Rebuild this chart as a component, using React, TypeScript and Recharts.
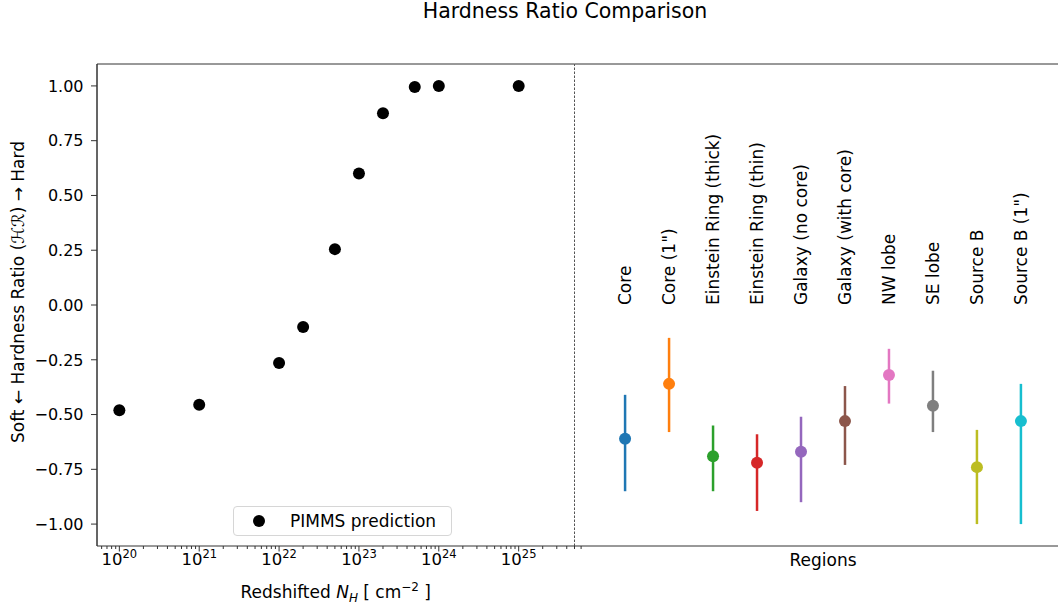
import React from 'react';
import { ScatterChart, Scatter, XAxis, YAxis, ErrorBar, Legend, Label, ReferenceLine } from 'recharts';

// PIMMS predicted hardness ratio against redshifted absorbing column
const nhColumns = [1e20, 1e21, 1e22, 2e22, 5e22, 1e23, 2e23, 5e23, 1e24, 1e25];
const pimmsHR = [-0.48, -0.455, -0.265, -0.1, 0.255, 0.6, 0.875, 0.995, 1.0, 1.0];

// measured hardness ratios per extraction region (value, lower and upper bound)
const regionNames = [
  'Core',
  'Core (1")',
  'Einstein Ring (thick)',
  'Einstein Ring (thin)',
  'Galaxy (no core)',
  'Galaxy (with core)',
  'NW lobe',
  'SE lobe',
  'Source B',
  'Source B (1")',
];
const regionHR = [-0.61, -0.36, -0.69, -0.72, -0.67, -0.53, -0.32, -0.46, -0.74, -0.53];
const regionLow = [-0.85, -0.58, -0.85, -0.94, -0.9, -0.73, -0.45, -0.58, -1.0, -1.0];
const regionHigh = [-0.41, -0.15, -0.55, -0.59, -0.51, -0.37, -0.2, -0.3, -0.57, -0.36];
const regionColors = [
  '#1f77b4', '#ff7f0e', '#2ca02c', '#d62728', '#9467bd',
  '#8c564b', '#e377c2', '#7f7f7f', '#bcbd22', '#17becf',
];

const hrTicks = [-1, -0.75, -0.5, -0.25, 0, 0.25, 0.5, 0.75, 1];

const FONT = '"DejaVu Sans", sans-serif';
const AXIS = '#333';
const HR_DOMAIN: [number, number] = [-1.1, 1.1];
const NH_MIN = 5.25e19;
const NH_MAX = 5e25;
const REGION_DOMAIN: [number, number] = [-1.15, 10.15];

// log axis: decade ticks get labels, the 2..9 multiples are minor marks
const nhTicks: number[] = [];
for (let e = 19; e <= 25; e++) {
  for (let k = 1; k <= 9; k++) {
    const v = Number(`${k}e${e}`);
    if (v >= NH_MIN && v <= NH_MAX) nhTicks.push(v);
  }
}

const pimmsData = nhColumns.map((nh, i) => ({ nh, hr: pimmsHR[i] }));
const regionData = regionNames.map((name, i) => ({
  x: i,
  y: regionHR[i],
  err: [regionHR[i] - regionLow[i], regionHigh[i] - regionHR[i]],
}));
const labelData = regionNames.map((name, i) => ({ x: i, y: 0, name }));

const fmtHR = (v: number) => v.toFixed(2).replace('-', '\u2212');

const HrTick = ({ x, y, payload }: any) => (
  <g>
    <line x1={x - 6} x2={x} y1={y} y2={y} stroke={AXIS} strokeWidth={1} />
    <text x={x - 13.5} y={y} dy="0.36em" textAnchor="end" fontSize={16} fill="#000" fontFamily={FONT}>
      {fmtHR(payload.value)}
    </text>
  </g>
);

const NhTick = ({ x, y, payload }: any) => {
  const lg = Math.log10(payload.value);
  const major = Math.abs(lg - Math.round(lg)) < 1e-6;
  if (!major) {
    return <line x1={x} x2={x} y1={y} y2={y + 3} stroke={AXIS} strokeWidth={1} />;
  }
  return (
    <g>
      <line x1={x} x2={x} y1={y} y2={y + 5.5} stroke={AXIS} strokeWidth={1} />
      <text x={x} y={y + 19} textAnchor="middle" fontSize={16.5} fill="#000" fontFamily={FONT}>
        10
        <tspan fontSize={11.5} dy={-7}>{Math.round(lg)}</tspan>
      </text>
    </g>
  );
};

const MinorTick = ({ x, y }: any) => (
  <line x1={x} x2={x} y1={y} y2={y + 3} stroke={AXIS} strokeWidth={1} />
);

const HrTitle = ({ viewBox }: any) => {
  const cy = viewBox.y + viewBox.height / 2 - 13;
  const cx = 18;
  return (
    <text
      x={cx}
      y={cy}
      transform={`rotate(-90 ${cx} ${cy})`}
      textAnchor="middle"
      dy="0.35em"
      fontSize={17}
      fill="#000"
      fontFamily={FONT}
    >
      {'Soft \u2190 Hardness Ratio ('}
      <tspan fontStyle="italic">{'\u210B\u211B'}</tspan>
      {')  \u2192 Hard'}
    </text>
  );
};

const NhTitle = ({ viewBox }: any) => {
  const cx = viewBox.x + viewBox.width / 2;
  return (
    <text x={cx} y={viewBox.y + 52} textAnchor="middle" fontSize={17} fill="#000" fontFamily={FONT}>
      {'Redshifted '}
      <tspan fontStyle="italic">N</tspan>
      <tspan fontStyle="italic" fontSize={12} dy={4}>H</tspan>
      <tspan dy={-4}>{' [ cm'}</tspan>
      <tspan fontSize={12} dy={-7}>{'\u22122'}</tspan>
      <tspan dy={7}>{' ]'}</tspan>
    </text>
  );
};

const RegionsTitle = ({ viewBox }: any) => {
  const cx = viewBox.x + viewBox.width / 2;
  return (
    <text x={cx} y={viewBox.y + 20} textAnchor="middle" fontSize={17} fill="#000" fontFamily={FONT}>
      Regions
    </text>
  );
};

const RegionLabel = ({ cx, cy, payload }: any) => (
  <text
    x={cx}
    y={cy}
    transform={`rotate(-90 ${cx} ${cy})`}
    dy="0.36em"
    fontSize={17}
    fill="#000"
    fontFamily={FONT}
  >
    {payload.name}
  </text>
);

const dot = (color: string) => (props: any) =>
  <circle cx={props.cx} cy={props.cy} r={6} fill={color} />;

const PimmsKey = () => (
  <div
    style={{
      boxSizing: 'border-box',
      width: 219,
      height: 30,
      border: '1px solid #d6d6d6',
      borderRadius: 4,
      background: 'rgba(255,255,255,0.8)',
      display: 'flex',
      alignItems: 'center',
      fontFamily: FONT,
      fontSize: 17,
      color: '#000',
    }}
  >
    <svg width={56} height={28}>
      <circle cx={25} cy={14} r={6} fill="#000" />
    </svg>
    <span>PIMMS prediction</span>
  </div>
);

export default function App() {
  return (
    <div
      style={{
        position: 'fixed',
        left: 0,
        top: 0,
        width: 1058,
        height: 609,
        overflow: 'hidden',
        background: '#fff',
        fontFamily: FONT,
      }}
    >
      <div
        style={{
          position: 'absolute',
          left: 365,
          top: 1,
          width: 400,
          textAlign: 'center',
          fontSize: 20.5,
          lineHeight: 1,
          color: '#000',
        }}
      >
        Hardness Ratio Comparison
      </div>

      <div style={{ position: 'absolute', left: 0, top: 0 }}>
        <ScatterChart width={577} height={609} margin={{ top: 64, right: 2.5, bottom: 0, left: 0 }}>
          <XAxis
            dataKey="nh"
            type="number"
            scale="log"
            domain={[NH_MIN, NH_MAX]}
            allowDataOverflow
            ticks={nhTicks}
            interval={0}
            tick={<NhTick />}
            tickLine={false}
            tickSize={0}
            tickMargin={0}
            height={63}
            axisLine={{ stroke: AXIS, strokeWidth: 1 }}
          >
            <Label content={<NhTitle />} />
          </XAxis>
          <YAxis
            dataKey="hr"
            type="number"
            domain={HR_DOMAIN}
            allowDataOverflow
            ticks={hrTicks}
            interval={0}
            tick={<HrTick />}
            tickLine={false}
            tickSize={0}
            tickMargin={0}
            width={97}
            axisLine={{ stroke: AXIS, strokeWidth: 1 }}
          >
            <Label content={<HrTitle />} />
          </YAxis>
          {/* frame: left and top spines */}
          <ReferenceLine x={NH_MIN} stroke={AXIS} strokeWidth={1} />
          <ReferenceLine y={HR_DOMAIN[1]} stroke={AXIS} strokeWidth={1} />
          <Scatter
            name="PIMMS prediction"
            data={pimmsData}
            fill="#000"
            shape={dot('#000')}
            isAnimationActive={false}
          />
          <Legend
            layout="horizontal"
            verticalAlign="middle"
            align="center"
            wrapperStyle={{ left: 233, top: 506, width: 219, height: 30 }}
            content={() => <PimmsKey />}
          />
        </ScatterChart>
      </div>

      <div style={{ position: 'absolute', left: 574, top: 0 }}>
        <ScatterChart width={498} height={609} margin={{ top: 64, right: 0.5, bottom: 0, left: 0.5 }}>
          <XAxis
            dataKey="x"
            type="number"
            domain={REGION_DOMAIN}
            allowDataOverflow
            ticks={[-1]}
            interval={0}
            tick={<MinorTick />}
            tickLine={false}
            tickSize={0}
            tickMargin={0}
            height={63}
            axisLine={{ stroke: AXIS, strokeWidth: 1 }}
          >
            <Label content={<RegionsTitle />} />
          </XAxis>
          <YAxis
            dataKey="y"
            type="number"
            domain={HR_DOMAIN}
            allowDataOverflow
            tick={false}
            tickLine={false}
            axisLine={false}
            width={0}
          />
          {/* top spine and the dashed divider between the two panels */}
          <ReferenceLine y={HR_DOMAIN[1]} stroke={AXIS} strokeWidth={1} />
          <ReferenceLine x={REGION_DOMAIN[0]} stroke="#555" strokeWidth={1} strokeDasharray="2.5 1.5" />
          <Scatter data={labelData} shape={<RegionLabel />} isAnimationActive={false} />
          {regionData.map((d, i) => (
            <Scatter
              key={regionNames[i]}
              name={regionNames[i]}
              data={[d]}
              fill={regionColors[i]}
              shape={dot(regionColors[i])}
              isAnimationActive={false}
            >
              <ErrorBar
                dataKey="err"
                direction="y"
                width={0}
                strokeWidth={2.5}
                stroke={regionColors[i]}
                isAnimationActive={false}
              />
            </Scatter>
          ))}
        </ScatterChart>
      </div>
    </div>
  );
}
